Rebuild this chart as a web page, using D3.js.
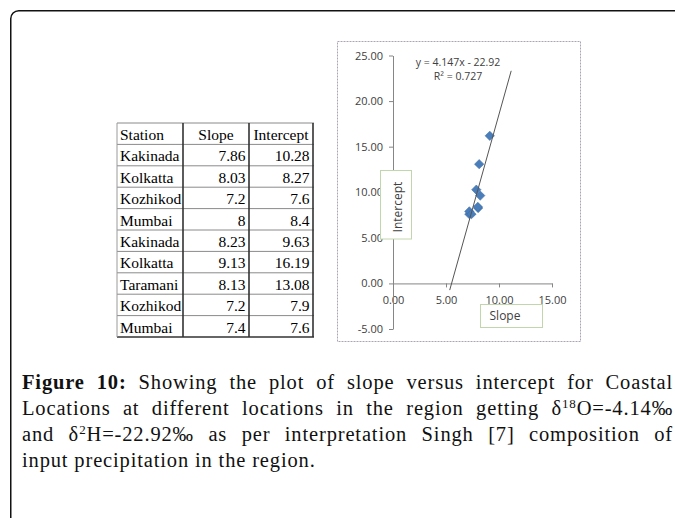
<!DOCTYPE html>
<html>
<head>
<meta charset="utf-8">
<script src="https://cdn.jsdelivr.net/npm/d3@7"></script>
<style>
  html, body { margin: 0; padding: 0; background: #fff; }
  svg { display: block; }
</style>
</head>
<body>
<svg id="fig" width="675" height="518"></svg>
<script>
// ---- data ----
const tableHeaders = ["Station", "Slope", "Intercept"];
const stations   = ["Kakinada", "Kolkatta", "Kozhikod", "Mumbai", "Kakinada", "Kolkatta", "Taramani", "Kozhikod", "Mumbai"];
const slopes     = [7.86, 8.03, 7.2, 8, 8.23, 9.13, 8.13, 7.2, 7.4];
const intercepts = [10.28, 8.27, 7.6, 8.4, 9.63, 16.19, 13.08, 7.9, 7.6];

const xTicks = [0, 5, 10, 15];
const yTicks = [-5, 0, 5, 10, 15, 20, 25];

// linear fit reported on the chart
const fitSlope = 4.147;
const fitIntercept = -22.92;
const fitR2 = 0.727;
const fitSpan = [5.35, 11.15];   // slope range covered by the trend line

const svg = d3.select("#fig");

// ---- outer frame (rounded top-left corner) ----
svg.append("path")
  .attr("d", "M10.75,530 V18.75 A8,8 0 0 1 18.75,10.75 H690")
  .attr("fill", "none")
  .attr("stroke", "#111")
  .attr("stroke-width", 1.5);

// ---- table ----
const colX = [117, 183, 249, 313];
const rowTop = 123, rowH = 21.4;
const nRows = stations.length + 1;
const tbl = svg.append("g").attr("font-family", "'Liberation Serif', 'Times New Roman', serif")
  .attr("font-size", 15.5).attr("fill", "#000");

d3.range(nRows + 1).forEach(i => {
  const yy = rowTop + i * rowH;
  tbl.append("line")
    .attr("x1", colX[0]).attr("x2", colX[3] + 1)
    .attr("y1", yy).attr("y2", yy)
    .attr("stroke", i === nRows ? "#333" : "#8a8a8a")
    .attr("stroke-width", i === nRows ? 1.5 : 1);
});
colX.forEach((cx, i) => {
  tbl.append("line")
    .attr("x1", cx).attr("x2", cx)
    .attr("y1", rowTop).attr("y2", rowTop + nRows * rowH)
    .attr("stroke", i === 0 ? "#9a9a9a" : "#333")
    .attr("stroke-width", i === 0 ? 1 : 1.6);
});

// header row
tableHeaders.forEach((h, i) => {
  tbl.append("text")
    .attr("x", i === 0 ? colX[0] + 3 : (colX[i] + colX[i + 1]) / 2)
    .attr("y", rowTop + rowH - 4.5)
    .attr("text-anchor", i === 0 ? "start" : "middle")
    .text(h);
});
// body rows
stations.forEach((s, r) => {
  const by = rowTop + (r + 2) * rowH - 4.5;
  tbl.append("text").attr("x", colX[0] + 3).attr("y", by).text(s);
  tbl.append("text").attr("x", colX[2] - 3.5).attr("y", by)
    .attr("text-anchor", "end").text(String(slopes[r]));
  tbl.append("text").attr("x", colX[3] - 3.5).attr("y", by)
    .attr("text-anchor", "end").text(String(intercepts[r]));
});

// ---- scatter chart ----
svg.append("rect")
  .attr("x", 337.5).attr("y", 41.5).attr("width", 243).attr("height", 300)
  .attr("fill", "none").attr("stroke", "#aba4b8")
  .attr("stroke-dasharray", "2,1");

const x = d3.scaleLinear().domain([0, 15]).range([393, 552]);
const y = d3.scaleLinear().domain([-5, 25]).range([329, 55.5]);
const fmt = d => d.toFixed(2);   // plain hyphen for negatives

const axisFont = g => g.selectAll("text")
  .attr("font-family", "'Open Sans', sans-serif")
  .attr("font-size", 11)
  .attr("fill", "#404040");
const axisLines = g => {
  g.select(".domain").attr("stroke", "#868686");
  g.selectAll(".tick line").attr("stroke", "#868686");
};

// horizontal axis at intercept = 0
svg.append("g")
  .attr("transform", `translate(0,${y(0)})`)
  .call(d3.axisBottom(x).tickValues(xTicks).tickFormat(fmt)
    .tickSize(4).tickSizeOuter(0).tickPadding(9))
  .call(axisFont).call(axisLines);

// vertical axis at slope = 0
svg.append("g")
  .attr("transform", `translate(${x(0)},0)`)
  .call(d3.axisLeft(y).tickValues(yTicks).tickFormat(fmt)
    .tickSize(4).tickSizeOuter(0).tickPadding(6))
  .call(axisFont).call(axisLines);

// markers
const diamond = d3.symbol(d3.symbolSquare, 44);
svg.append("g").selectAll("path")
  .data(slopes.map((s, i) => [s, intercepts[i]]))
  .join("path")
  .attr("d", diamond)
  .attr("transform", d => `translate(${x(d[0])},${y(d[1])}) rotate(45)`)
  .attr("fill", "#4a7ebb")
  .attr("stroke", "#3c6aa3")
  .attr("stroke-width", 0.5);

// trend line
svg.append("line")
  .attr("x1", x(fitSpan[0])).attr("y1", y(fitSlope * fitSpan[0] + fitIntercept))
  .attr("x2", x(fitSpan[1])).attr("y2", y(fitSlope * fitSpan[1] + fitIntercept))
  .attr("stroke", "#555").attr("stroke-width", 1);

// fit equation
const eq = svg.append("g").attr("font-family", "'Open Sans', sans-serif")
  .attr("font-size", 10.5).attr("fill", "#404040").attr("text-anchor", "middle");
eq.append("text").attr("x", 458).attr("y", 66)
  .text(`y = ${fitSlope}x - ${Math.abs(fitIntercept)}`);
eq.append("text").attr("x", 458).attr("y", 79.5)
  .text(`R² = ${fitR2}`);

// axis titles in boxes
const titleBox = { fill: "#fff", stroke: "#c2d6ae" };
svg.append("rect").attr("x", 380.5).attr("y", 170.5).attr("width", 31).attr("height", 68.5)
  .attr("fill", titleBox.fill).attr("stroke", titleBox.stroke);
svg.append("text")
  .attr("transform", "translate(402,207) rotate(-90)")
  .attr("text-anchor", "middle")
  .attr("font-family", "'Open Sans', sans-serif").attr("font-size", 12).attr("fill", "#404040")
  .text("Intercept");

svg.append("rect").attr("x", 480.5).attr("y", 304.5).attr("width", 62).attr("height", 23)
  .attr("fill", titleBox.fill).attr("stroke", titleBox.stroke);
svg.append("text")
  .attr("x", 505).attr("y", 320)
  .attr("text-anchor", "middle")
  .attr("font-family", "'Open Sans', sans-serif").attr("font-size", 12).attr("fill", "#404040")
  .text("Slope");

// ---- caption ----
const captionLines = [
  [{ t: "Figure 10:", b: true }, { t: " Showing the plot of slope versus intercept for Coastal" }],
  [{ t: "Locations at different locations in the region getting δ" }, { t: "18", sup: true }, { t: "O=-4.14‰" }],
  [{ t: "and δ" }, { t: "2", sup: true }, { t: "H=-22.92‰ as per interpretation Singh [7] composition of" }],
  [{ t: "input precipitation in the region." }]
];
const justify = [true, true, true, false];
const capX = 22, capRight = 673, capY0 = 389, capStep = 26;

const cap = svg.append("g")
  .attr("font-family", "'Liberation Serif', 'Times New Roman', serif")
  .attr("font-size", 20.5).attr("fill", "#111")
  .attr("letter-spacing", 0.85);

// justified lines: stretch the word gaps to reach the right margin
captionLines.forEach((parts, li) => {
  const t = cap.append("text").attr("x", capX).attr("y", capY0 + li * capStep)
    .attr("xml:space", "preserve");
  let raised = false;
  parts.forEach(p => {
    const ts = t.append("tspan").text(p.t);
    if (p.b) ts.attr("font-weight", "bold");
    if (p.sup) { ts.attr("font-size", 13).attr("dy", -7.5); raised = true; }
    else if (raised) { ts.attr("dy", 7.5); raised = false; }
  });
  if (justify[li]) {
    const full = parts.map(p => p.t).join("");
    const nSpaces = (full.match(/ /g) || []).length;
    const len = t.node().getComputedTextLength();
    t.attr("word-spacing", Math.max(0, (capRight - capX - len) / nSpaces));
  }
});
</script>
</body>
</html>
